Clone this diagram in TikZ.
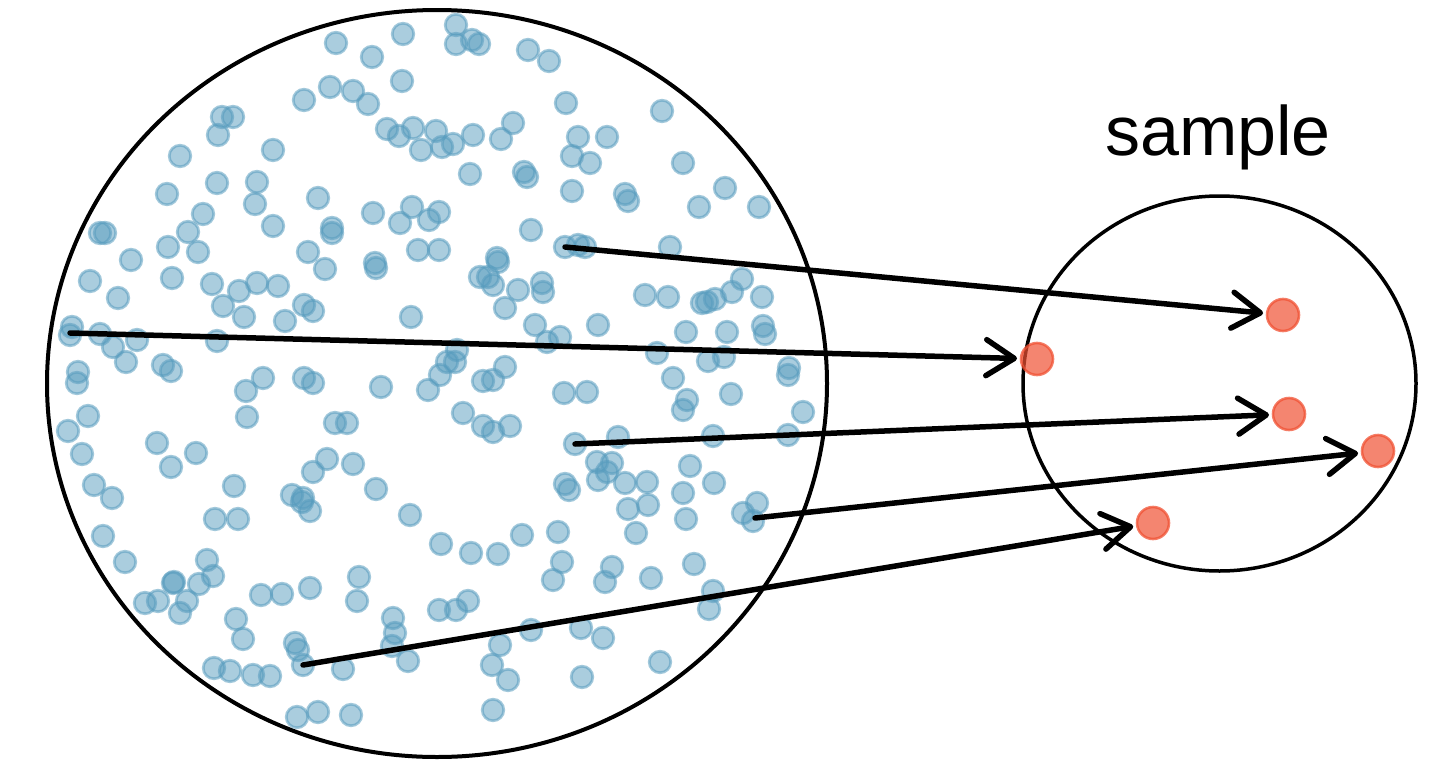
\documentclass[tikz,border=0pt]{standalone}
\usepackage{fontspec}
\setmainfont{Liberation Sans}
\usetikzlibrary{arrows.meta}
\definecolor{dotblue}{RGB}{86,155,189}
\definecolor{dotred}{RGB}{240,81,51}
\tikzset{
  bdot/.style={circle, inner sep=0pt, outer sep=0pt, minimum size=21.5pt, line width=2.8pt,
    draw=dotblue, fill=dotblue, fill opacity=0.5, draw opacity=0.55},
  rslot/.style={circle, inner sep=0pt, outer sep=0pt, minimum size=32pt},
  rdot/.style={circle, inner sep=0pt, outer sep=0pt, minimum size=32pt, line width=2.6pt,
    draw=dotred, fill=dotred, fill opacity=0.7, draw opacity=0.75},
  arr/.style={line width=5.5pt, line cap=round, -{Straight Barb[length=28pt,width=36pt,line cap=round,round]}, shorten >=4pt},
  ring/.style={draw=black},
}
\begin{document}
\begin{tikzpicture}[x=1pt,y=-1pt]
\useasboundingbox (0,0) rectangle (1443,779);
% population and sample outlines
\draw[ring, line width=4pt] (437,383.5) ellipse [x radius=390, y radius=373.5];
\draw[ring, line width=3.5pt] (1219.5,383.5) ellipse [x radius=196.5, y radius=187.5];
% population dots
\foreach \x/\y [count=\i] in {
336/43,403/34,456/25,456/44,472/40,479/44,528/50,549/61,372/57,402/81,330/87,353/91,368/104,304/100,566/103,662/111,
222/117,233/117,218/135,273/150,180/156,387/129,399/136,413/128,436/131,421/150,442/147,453/144,473/135,501/139,513/123,
578/137,607/137,572/156,590/163,683/163,470/174,524/172,527/177,217/183,257/182,255/204,167/194,203/214,188/232,198/252,
168/247,273/226,318/198,100/233,105/233,131/260,308/252,572/191,625/194,628/201,725/188,699/207,759/207,373/213,412/207,
439/212,400/223,429/220,332/228,332/233,531/230,418/250,439/250,497/258,375/263,325/269,565/247,578/245,585/247,670/247,
90/281,172/278,118/298,212/284,239/291,257/283,278/286,223/306,244/317,304/305,313/311,285/321,72/327,70/335,100/334,
113/347,137/340,126/362,217/341,163/365,171/371,78/372,77/383,263/378,246/391,304/378,313/383,88/416,68/431,247/417,
82/454,157/443,196/453,171/467,94/485,112/498,234/486,292/495,302/502,215/519,238/519,
376/268,498/262,480/277,488/277,493/285,518/290,542/283,543/292,505/308,535/325,547/342,560/337,411/317,457/350,447/362,
455/362,440/375,428/390,381/387,483/381,493/380,505/367,564/393,463/413,483/426,493/432,510/426,335/423,347/423,327/459,
313/472,353/464,376/489,565/484,569/490,303/498,310/511,410/515,
742/279,732/292,762/297,645/295,668/297,702/303,707/302,715/299,598/325,686/332,727/332,763/326,765/334,657/353,708/361,
724/357,673/378,789/368,788/375,587/392,687/400,683/410,731/394,803/412,575/444,618/437,713/436,788/435,597/462,612/463,
607/472,598/480,625/483,647/482,690/466,714/483,628/509,648/505,683/493,686/519,743/513,757/503,753/521,
103/536,125/562,207/560,213/576,199/584,173/583,174/582,145/603,158/601,187/601,180/613,261/595,282/594,310/588,236/619,
243/639,295/643,298/650,303/665,214/668,230/671,253/675,270/676,297/717,318/712,
441/544,471/553,498/554,522/535,558/532,562/562,553/580,359/577,357/601,393/618,395/633,392/646,408/661,439/610,456/610,
468/601,343/669,500/645,492/665,508/680,531/630,351/715,493/710,
636/533,612/567,605/582,651/578,694/564,713/591,709/609,581/628,603/638,660/662,582/677}
  \node[bdot] (b\i) at (\x,\y) {};
% arrow start points (centres of the sampled dots)
\coordinate (s1) at (565,247);
\coordinate (s2) at (70,333);
\coordinate (s3) at (575,444);
\coordinate (s4) at (755,518);
\coordinate (s5) at (303,665);
% places of the sampled dots
\node[rslot] (r1) at (1283,315) {};
\node[rslot] (r2) at (1037,359) {};
\node[rslot] (r3) at (1289,414) {};
\node[rslot] (r4) at (1378,451) {};
\node[rslot] (r5) at (1153,523) {};
% arrows
\draw[arr] (s1) -- (r1);
\draw[arr] (s2) -- (r2);
\draw[arr] (s3) -- (r3);
\draw[arr] (s4) -- (r4);
\draw[arr] (s5) -- (r5);
% sampled dots on top
\node[rdot] (d1) at (r1) {};
\node[rdot] (d2) at (r2) {};
\node[rdot] (d3) at (r3) {};
\node[rdot] (d4) at (r4) {};
\node[rdot] (d5) at (r5) {};
% label
\node[font=\fontsize{70}{84}\selectfont, anchor=base, inner sep=0pt] (lbl) at (1218,155) {sample};
\end{tikzpicture}
\end{document}
